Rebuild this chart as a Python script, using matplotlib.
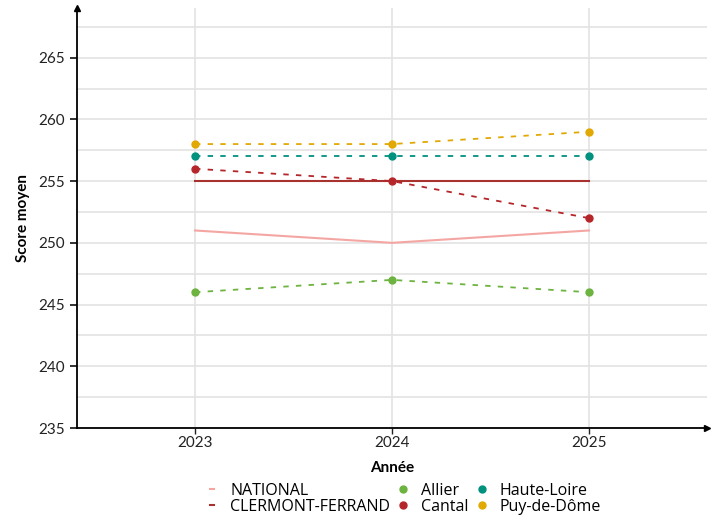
import matplotlib
matplotlib.use("Agg")
import matplotlib.pyplot as plt
from matplotlib.lines import Line2D

plt.rcParams['font.family'] = ['Lato', 'DejaVu Sans']

years = [2023, 2024, 2025]
national = [251, 250, 251]
clermont = [255, 255, 255]
allier = [246, 247, 246]
cantal = [256, 255, 252]
haute_loire = [257, 257, 257]
puy_de_dome = [258, 258, 259]

c_nat = '#f4a6a3'
c_cf = '#a8322e'
c_allier = '#6db33f'
c_cantal = '#b5262a'
c_hl = '#00917f'
c_pdd = '#e2a803'

fig = plt.figure(figsize=(7.18, 5.16), dpi=100)
ax = fig.add_axes([0.107, 0.1705, 0.878, 0.8135])

ax.set_xlim(2022.4, 2025.6)
ax.set_ylim(235, 269)
ax.set_yticks([235, 240, 245, 250, 255, 260, 265])
ax.set_yticks([237.5, 242.5, 247.5, 252.5, 257.5, 262.5, 267.5], minor=True)
ax.set_xticks(years)
ax.grid(True, which='both', color='#e3e3e3', linewidth=1.2, zorder=0)
ax.set_axisbelow(True)
for s in ['top', 'right']:
    ax.spines[s].set_visible(False)
for s in ['left', 'bottom']:
    ax.spines[s].set_linewidth(1.3)
ax.tick_params(axis='both', which='major', length=5, width=1.3, labelsize=11, colors='#222222')
ax.tick_params(axis='y', which='minor', length=0)
ax.tick_params(axis='x', length=4, width=1.0, pad=2)

ax.plot(1, 0, '>k', transform=ax.transAxes, clip_on=False, markersize=5)
ax.plot(0, 1, '^k', transform=ax.transAxes, clip_on=False, markersize=5)

ax.plot(years, national, color=c_nat, linewidth=1.5, zorder=3)
ax.plot(years, clermont, color=c_cf, linewidth=1.5, zorder=3)
for vals, c in [(allier, c_allier), (cantal, c_cantal), (haute_loire, c_hl), (puy_de_dome, c_pdd)]:
    ax.plot(years, vals, color=c, linewidth=1.3, linestyle=(0, (3, 4)), marker='o', markersize=5, zorder=4)

ax.set_xlabel('Année', fontsize=11, fontweight='bold', labelpad=8)
ax.set_ylabel('Score moyen', fontsize=11, fontweight='bold', labelpad=6)

handles = [
    Line2D([], [], color=c_nat, linewidth=1.5, linestyle='-'),
    Line2D([], [], color=c_cf, linewidth=1.5, linestyle='-'),
    Line2D([], [], color=c_allier, marker='o', linestyle='none', markersize=5),
    Line2D([], [], color=c_cantal, marker='o', linestyle='none', markersize=5),
    Line2D([], [], color=c_hl, marker='o', linestyle='none', markersize=5),
    Line2D([], [], color=c_pdd, marker='o', linestyle='none', markersize=5),
]
labels = ['NATIONAL', 'CLERMONT-FERRAND', 'Allier', 'Cantal', 'Haute-Loire', 'Puy-de-Dôme']
fig.legend(handles, labels, ncol=3, loc='center', bbox_to_anchor=(0.565, 0.033),
           frameon=False, prop={'family': ['Open Sans', 'DejaVu Sans'], 'size': 11.5},
           handlelength=0.25, handletextpad=1.0,
           columnspacing=0.7, labelspacing=0.0, borderpad=0)

fig.savefig('out.png', dpi=100)
